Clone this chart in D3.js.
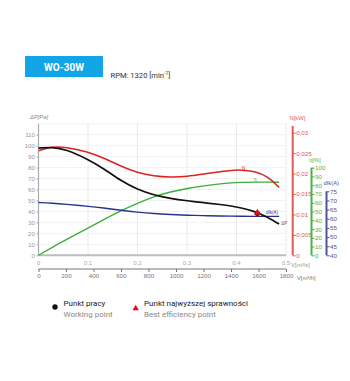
<!DOCTYPE html>
<html><head><meta charset="utf-8">
<script src="https://cdn.jsdelivr.net/npm/d3@7"></script>
<style>
body{margin:0;background:#fff;}
svg{display:block;}
text{font-family:"Liberation Sans Narrow","Liberation Sans",Arial,sans-serif;}
</style></head>
<body><svg id="c" width="350" height="381"></svg>
<script>
// ---- data ----
const flow = [0, 100, 200, 350, 475, 600, 720, 840, 960, 1085, 1200, 1330, 1400, 1470, 1570, 1670, 1750]; // m3/h
const pressure = [97.8, 98.7, 96.6, 88.2, 79.1, 67.8, 60.0, 54.8, 51.8, 49.7, 48.0, 46.2, 45.0, 43.4, 40.2, 34.5, 28.5]; // Pa
const power = [0.0256, 0.0266, 0.0265, 0.0254, 0.0238, 0.0218, 0.0202, 0.0194, 0.0191, 0.0193, 0.0199, 0.0205, 0.0208, 0.0209, 0.0206, 0.0193, 0.0166]; // kW
const efficiency = [0, 9, 18, 30, 41, 51, 59.5, 67.0, 72.5, 76.5, 79.3, 81.8, 82.8, 83.3, 83.6, 83.6, 83.4]; // %
const current = [68.9, 68.5, 67.9, 66.9, 65.9, 64.6, 63.6, 62.8, 62.3, 61.9, 61.7, 61.5, 61.4, 61.35, 61.3, 61.3, 61.3]; // A
const workPoint = {q: 1592, p: 38.3};
const ticksM3h = [0, 200, 400, 600, 800, 1000, 1200, 1400, 1600, 1800];
const ticksM3s = [0, 0.1, 0.2, 0.3, 0.4, 0.5];
const ticksP = [0, 10, 20, 30, 40, 50, 60, 70, 80, 90, 100, 110];
const ticksN = [0, 0.005, 0.01, 0.015, 0.02, 0.025, 0.03];
const ticksEta = [0, 10, 20, 30, 40, 50, 60, 70, 80, 90, 100];
const ticksI = [40, 45, 50, 55, 60, 65, 70, 75];

const svg = d3.select("#c");
const x = d3.scaleLinear().domain([0, 1800]).range([38.5, 286]);
const xs = d3.scaleLinear().domain([0, 0.5]).range([38.5, 286]);
const y = d3.scaleLinear().domain([0, 120]).range([255.3, 123.7]);
const yN = d3.scaleLinear().domain([0, 0.03]).range([255.3, 132.7]);
const yE = d3.scaleLinear().domain([0, 100]).range([255.3, 167.7]);
const yI = d3.scaleLinear().domain([40, 75]).range([255.3, 191.3]);
const comma = v => String(v).replace(".", ",");

// title
svg.append("rect").attr("x", 25).attr("y", 56).attr("width", 78).attr("height", 21).attr("fill", "#12a5e6");
svg.append("text").attr("x", 64).attr("y", 70.5).attr("text-anchor", "middle").attr("fill", "#fff")
  .style("font-family", "Roboto, Arial, sans-serif").attr("font-weight", "bold").attr("font-size", 10).text("WO-30W");
const rpm = svg.append("text").attr("x", 110.5).attr("y", 77.5).attr("fill", "#333")
  .style("font-family", "Roboto, Arial, sans-serif").attr("font-size", 7.6);
rpm.append("tspan").text("RPM: 1320 [min");
rpm.append("tspan").attr("dy", -2.5).attr("font-size", 5).text("-1");
rpm.append("tspan").attr("dy", 2.5).text("]");

// grid
const g = svg.append("g");
g.selectAll(".hg").data(d3.range(10, 121, 10)).join("line")
  .attr("x1", x(0)).attr("x2", x(1800)).attr("y1", d => y(d)).attr("y2", d => y(d))
  .attr("stroke", "#ececec").attr("stroke-width", 0.7);
g.selectAll(".vg").data(ticksM3s.slice(1)).join("line")
  .attr("x1", d => xs(d)).attr("x2", d => xs(d)).attr("y1", y(120)).attr("y2", y(0))
  .attr("stroke", "#e4e4e4").attr("stroke-width", 0.8);

// left axis
const ax = svg.append("g").attr("transform", `translate(${x(0)},0)`)
  .call(d3.axisLeft(y).tickValues(ticksP).tickSize(2).tickPadding(1.5));
ax.select(".domain").attr("stroke", "#aaa").attr("stroke-width", 1.2).attr("d", `M0,${y(120)}V${y(0)}`);
ax.selectAll(".tick line").attr("stroke", "#aaa");
ax.selectAll("text").attr("fill", "#999").attr("font-size", 6.2);
svg.append("text").attr("x", 30).attr("y", 119).attr("fill", "#888").attr("font-size", 5.8).attr("font-style", "italic").text("ΔP[Pa]");

// top x axis (m3/s)
svg.append("line").attr("x1", x(0)).attr("x2", x(1800)).attr("y1", y(0)).attr("y2", y(0)).attr("stroke", "#bdbdbd").attr("stroke-width", 2);
svg.selectAll(".xs").data(ticksM3s).join("text").attr("x", d => xs(d)).attr("y", 264.5)
  .attr("text-anchor", "middle").attr("fill", "#aaa").attr("font-size", 6.2).text(d => comma(d));
svg.append("text").attr("x", 291).attr("y", 266.5).attr("fill", "#999").attr("font-size", 6).text("V[m³/s]");

// bottom x axis (m3/h)
const bx = svg.append("g").attr("transform", "translate(0,269)")
  .call(d3.axisBottom(x).tickValues(ticksM3h).tickSize(3).tickPadding(1.5).tickFormat(d3.format("d")));
bx.select(".domain").attr("stroke", "#777").attr("d", `M${x(0)},0H${x(1800)}`);
bx.selectAll(".tick line").attr("stroke", "#777");
bx.selectAll("text").attr("fill", "#777").attr("font-size", 6.2);
svg.append("text").attr("x", 297).attr("y", 279.5).attr("fill", "#777").attr("font-size", 5.8).text("V[m³/h]");

// right axes
function rightAxis(scale, ticks, xpos, top, color, label, lx, ly, fmt) {
  const a = svg.append("g").attr("transform", `translate(${xpos},0)`)
    .call(d3.axisRight(scale).tickValues(ticks).tickSize(3).tickPadding(0.5).tickFormat(fmt));
  a.select(".domain").attr("stroke", color).attr("stroke-width", 2).attr("d", `M0,${top}V${scale.range()[0]}`);
  a.selectAll(".tick line").attr("stroke", color);
  a.selectAll("text").attr("fill", color).attr("font-size", 6.2);
  svg.append("text").attr("x", lx).attr("y", ly).attr("fill", color).attr("font-size", 5.8).text(label);
}
rightAxis(yN, ticksN, 292.7, 126, "#de5a5a", "N[kW]", 289.5, 119.5, d => comma(d));
rightAxis(yE, ticksEta, 311.5, 167.7, "#4fb047", "η[%]", 309, 162, d => d);
rightAxis(yI, ticksI, 326.5, 191.3, "#4e5596", "dIk(A)", 323.5, 185, d => d);

// curves
const line = (ys, vals) => d3.line().x((d, i) => x(flow[i])).y((d, i) => ys(vals[i])).curve(d3.curveBasis)(flow);
svg.append("path").attr("d", line(yE, efficiency)).attr("fill", "none").attr("stroke", "#3cae3a").attr("stroke-width", 1.4);
svg.append("path").attr("d", line(yI, current)).attr("fill", "none").attr("stroke", "#26338e").attr("stroke-width", 1.4);
svg.append("path").attr("d", line(yN, power)).attr("fill", "none").attr("stroke", "#dc2323").attr("stroke-width", 1.5);
svg.append("path").attr("d", line(y, pressure)).attr("fill", "none").attr("stroke", "#111").attr("stroke-width", 1.7);

// curve labels
const last = flow.length - 1;
svg.append("text").attr("x", x(flow[last]) + 2).attr("y", y(pressure[last]) + 1).attr("fill", "#666").attr("font-size", 4.5).text("ΔP");
svg.append("text").attr("x", 242).attr("y", 169.5).attr("fill", "#dc2323").attr("font-size", 4.5).text("N");
svg.append("text").attr("x", 254).attr("y", 181).attr("fill", "#3cae3a").attr("font-size", 4.5).text("η");
svg.append("text").attr("x", 266).attr("y", 214).attr("fill", "#26338e").attr("font-size", 4.5).text("dIk(A)");

// working point / best efficiency
svg.append("circle").attr("cx", x(workPoint.q)).attr("cy", y(workPoint.p)).attr("r", 2.6).attr("fill", "#111");
svg.append("path").attr("d", d3.symbol(d3.symbolTriangle, 22)()).attr("transform", `translate(${x(workPoint.q)},${y(workPoint.p) - 0.5})`).attr("fill", "#e01010");

// legend
svg.append("circle").attr("cx", 55).attr("cy", 307).attr("r", 2.7).attr("fill", "#111");
svg.append("path").attr("d", d3.symbol(d3.symbolTriangle, 18)()).attr("transform", "translate(135.7,308.5)").attr("fill", "#e01010");
const leg = [[63.5, "Punkt pracy", "Working point"], [144, "Punkt najwyższej sprawności", "Best efficiency point"]];
leg.forEach(([lx, a, b]) => {
  svg.append("text").attr("x", lx).attr("y", 305.5).attr("fill", "#222").style("font-family", "Roboto, Arial, sans-serif").attr("font-size", 8).text(a);
  svg.append("text").attr("x", lx).attr("y", 316.5).attr("fill", "#888").style("font-family", "Roboto, Arial, sans-serif").attr("font-size", 8).text(b);
});
</script></body></html>
